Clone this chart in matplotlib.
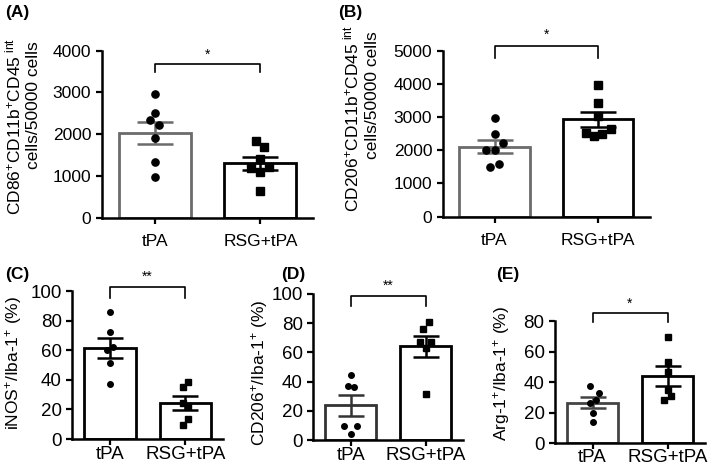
import numpy as np
import matplotlib
matplotlib.use('Agg')
import matplotlib.pyplot as plt

plt.rcParams['font.family'] = ['Liberation Sans', 'DejaVu Sans']
plt.rcParams['mathtext.fontset'] = 'custom'
plt.rcParams['mathtext.rm'] = 'Liberation Sans'

groups = ['tPA', 'RSG+tPA']

# (A) CD86+ cells
a_tpa = [2960, 2500, 2340, 2220, 1920, 1330, 980]
a_rsg = [1840, 1700, 1400, 1180, 1220, 1100, 640]
a_mean = [2036, 1301]
a_sem = [260, 148]

# (B) CD206+ cells
b_tpa = [2960, 2480, 2210, 2010, 2010, 1490, 1580]
b_rsg = [3970, 3430, 3030, 2510, 2430, 2480, 2630]
b_mean = [2108, 2932]
b_sem = [200, 220]

# (C) iNOS+/Iba-1+
c_tpa = [85.5, 72, 59.8, 62.5, 51.5, 37.2]
c_rsg = [38.6, 35, 24.4, 22.1, 13.8, 9.5]
c_mean = [61.6, 24.5]
c_sem = [6.9, 4.6]

# (D) CD206+/Iba-1+
d_tpa = [44.5, 37.3, 36, 9.7, 9.3, 4.2]
d_rsg = [80.6, 76.2, 66.9, 66.9, 62.7, 31.7]
d_mean = [23.7, 64.1]
d_sem = [7.2, 7.0]

# (E) Arg-1+/Iba-1+
e_tpa = [37.2, 33, 28.2, 26.4, 19.5, 13.6]
e_rsg = [69.3, 53.3, 46.8, 35, 30.8, 28.2]
e_mean = [26.4, 43.9]
e_sem = [3.7, 6.5]

W, H = 709, 469
fig = plt.figure(figsize=(W / 100, H / 100), dpi=100)

def px_axes(l, r, t, b):
    return fig.add_axes([l / W, 1 - b / H, (r - l) / W, (b - t) / H])

def panel(ax, tpa, rsg, mean, sem, jit, ymax, step, cols, star, br, ms, cap, fs, xpad):
    x = np.arange(2)
    for i, vals in enumerate([tpa, rsg]):
        ax.bar(x[i], mean[i], width=0.68, color='white', edgecolor=cols[i],
               linewidth=2.0, zorder=1)
        ax.errorbar(x[i], mean[i], yerr=sem[i], color=cols[i], capsize=cap,
                    elinewidth=1.8, capthick=1.8, zorder=3)
        ax.plot(x[i] + np.array(jit[i]), vals, ls='none',
                marker='o' if i == 0 else 's', ms=ms, color='black', zorder=4)
    ax.set_xlim(-0.5, 1.5)
    ax.set_ylim(0, ymax)
    ax.set_yticks(np.arange(0, ymax + 1, step))
    ax.set_xticks(x)
    ax.set_xticklabels(groups)
    for s in ['top', 'right']:
        ax.spines[s].set_visible(False)
    for s in ['left', 'bottom']:
        ax.spines[s].set_linewidth(1.8)
    ax.tick_params(width=1.6, length=4.5, labelsize=fs)
    ax.tick_params(axis='y', pad=3)
    ax.tick_params(axis='x', pad=xpad)
    # significance bracket
    y0, y1 = br
    ax.plot([0, 0, 1, 1], [y1, y0, y0, y1], color='black', lw=1.2, clip_on=False)
    ax.text(0.5, y0 + (y0 - y1) * 0.35, star, ha='center', va='bottom',
            fontsize=10)

axA = px_axes(101.7, 313.3, 50.7, 217.7)
panel(axA, a_tpa, a_rsg, a_mean, a_sem,
      [[0, 0, -0.047, 0.038, 0, 0, 0], [-0.041, 0.038, 0, -0.085, 0.079, 0, 0]],
      4000, 1000, ['#6b6b6b', 'black'], '*', (3673, 3481), 5.2, 13, 12.5, 7)

axB = px_axes(442.7, 650, 50.7, 216.7)
panel(axB, b_tpa, b_rsg, b_mean, b_sem,
      [[0, 0, 0.08, -0.08, 0, -0.042, 0.039], [0, 0, 0, -0.119, -0.042, 0.039, 0.119]],
      5000, 1000, ['#6b6b6b', 'black'], '*', (5141, 4769), 5.2, 13, 12.5, 7)

axC = px_axes(72.3, 223, 291, 439)
panel(axC, c_tpa, c_rsg, c_mean, c_sem,
      [[0, 0, -0.04, 0.04, 0, 0], [0.037, -0.037, -0.037, 0.037, 0.037, -0.037]],
      100, 20, ['black', 'black'], '**', (102.5, 95), 4, 9.5, 13.5, 0.5)

axD = px_axes(313.3, 463, 294, 440)
panel(axD, d_tpa, d_rsg, d_mean, d_sem,
      [[0, -0.04, 0.044, -0.084, 0.08, 0], [0.04, -0.04, -0.08, 0.075, 0, 0]],
      100, 20, ['#333333', 'black'], '**', (98.6, 91.8), 4, 9.5, 13.5, 0.5)

axE = px_axes(555, 705, 321, 443)
panel(axE, e_tpa, e_rsg, e_mean, e_sem,
      [[-0.04, 0.08, 0.04, -0.04, 0, 0], [0, 0, 0, 0, 0.04, -0.044]],
      80, 20, ['#444444', 'black'], '*', (85, 79.3), 4, 9.5, 13.5, 0)

sp = r'$\mathregular{^{+}}$'
yfs = 12.5
# y labels (A, B two lines)
fig.text(13 / W, 1 - 126 / H, 'CD86' + sp + 'CD11b' + sp + 'CD45' + r'$\mathregular{^{\ int}}$',
         rotation=90, ha='center', va='center', fontsize=yfs)
fig.text(33 / W, 1 - 105 / H, 'cells/50000 cells', rotation=90, ha='center',
         va='center', fontsize=yfs)
fig.text(351 / W, 1 - 119 / H, 'CD206' + sp + 'CD11b' + sp + 'CD45' + r'$\mathregular{^{\ int}}$',
         rotation=90, ha='center', va='center', fontsize=yfs)
fig.text(373 / W, 1 - 95 / H, 'cells/50000 cells', rotation=90, ha='center',
         va='center', fontsize=yfs)
fig.text(13 / W, 1 - 363 / H, 'iNOS' + sp + '/Iba-1' + sp + ' (%)', rotation=90,
         ha='center', va='center', fontsize=yfs)
fig.text(260 / W, 1 - 373 / H, 'CD206' + sp + '/Iba-1' + sp + ' (%)', rotation=90,
         ha='center', va='center', fontsize=yfs)
fig.text(502 / W, 1 - 373 / H, 'Arg-1' + sp + '/Iba-1' + sp + ' (%)', rotation=90,
         ha='center', va='center', fontsize=yfs)

# panel letters
for lab, x, y in [('(A)', 5, 12), ('(B)', 338, 12), ('(C)', 5, 274),
                  ('(D)', 281, 274), ('(E)', 496, 275)]:
    fig.text(x / W, 1 - y / H, lab, fontsize=12.5, fontweight='bold',
             ha='left', va='center')

fig.savefig('out.png', dpi=100)
